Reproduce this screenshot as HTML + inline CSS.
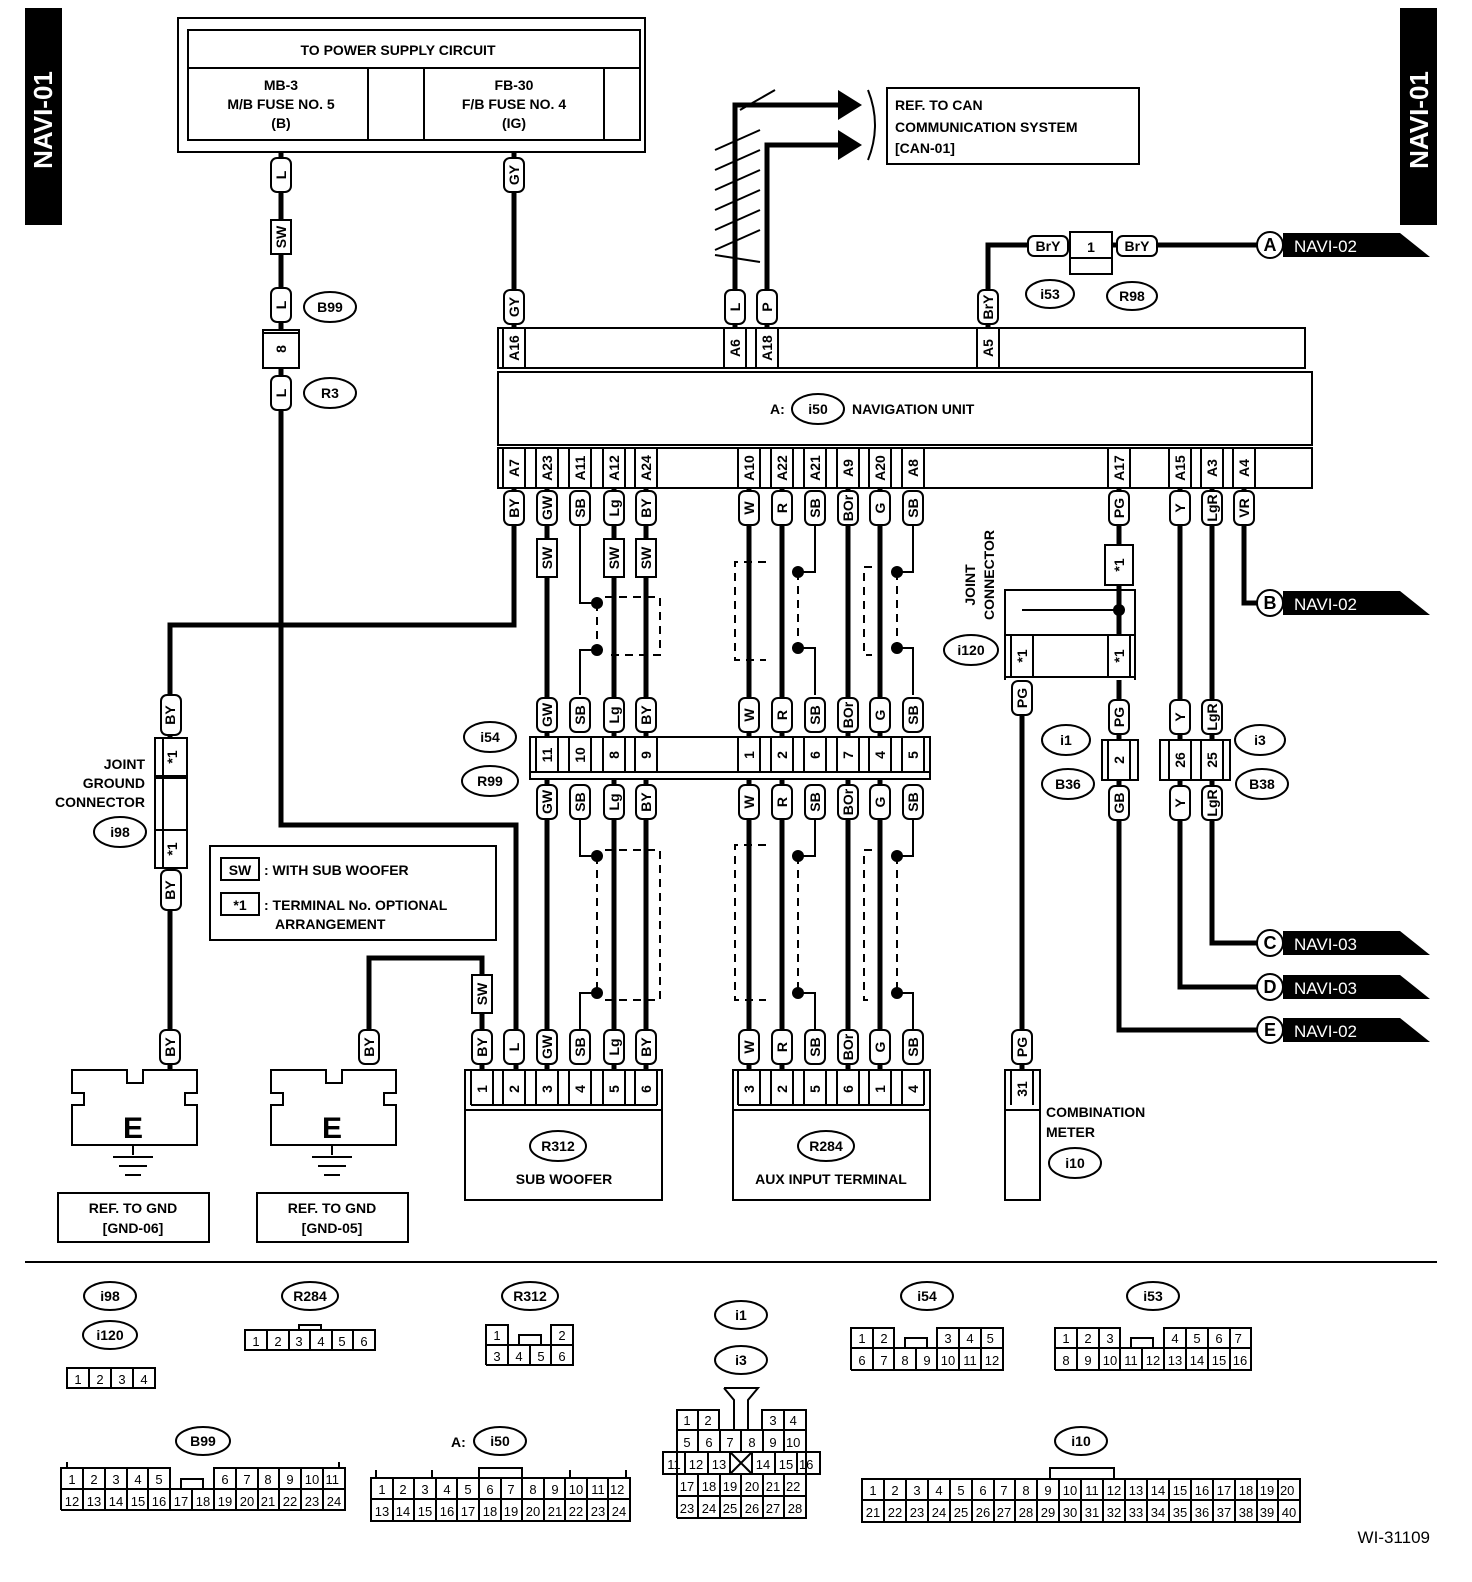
<!DOCTYPE html>
<html><head><meta charset="utf-8"><style>
body{margin:0;background:#fff}
svg{display:block}
text{font-family:"Liberation Sans",Arial,sans-serif;font-weight:bold;font-size:14px;fill:#000}
.w{stroke:#000;stroke-width:5;fill:none}
.t{stroke:#000;stroke-width:2;fill:none}
.d{stroke:#000;stroke-width:2;fill:none;stroke-dasharray:8,6}
.b{fill:#fff;stroke:#000;stroke-width:2}
.c text{font-size:13px;font-weight:normal}
</style></head><body>
<svg width="1472" height="1582" viewBox="0 0 1472 1582" xmlns="http://www.w3.org/2000/svg">
<defs>
<g id="pl"><rect x="-10" y="-17" width="20" height="34" rx="6" class="b"/></g>
</defs>
<!-- NAVI bars -->
<rect x="25" y="8" width="37" height="217" fill="#000"/>
<text transform="translate(52,120) rotate(-90)" text-anchor="middle" style="fill:#fff;font-size:26px">NAVI-01</text>
<rect x="1400" y="8" width="37" height="217" fill="#000"/>
<text transform="translate(1428,120) rotate(-90)" text-anchor="middle" style="fill:#fff;font-size:26px">NAVI-01</text>

<!-- power supply box -->
<rect x="178" y="18" width="467" height="134" class="b"/>
<rect x="188" y="30" width="452" height="110" class="b"/>
<line x1="188" y1="68" x2="640" y2="68" class="t"/>
<line x1="368" y1="68" x2="368" y2="140" class="t"/>
<line x1="424" y1="68" x2="424" y2="140" class="t"/>
<line x1="604" y1="68" x2="604" y2="140" class="t"/>
<text x="398" y="55" text-anchor="middle">TO POWER SUPPLY CIRCUIT</text>
<text x="281" y="90" text-anchor="middle">MB-3</text>
<text x="281" y="109" text-anchor="middle">M/B FUSE NO. 5</text>
<text x="281" y="128" text-anchor="middle">(B)</text>
<text x="514" y="90" text-anchor="middle">FB-30</text>
<text x="514" y="109" text-anchor="middle">F/B FUSE NO. 4</text>
<text x="514" y="128" text-anchor="middle">(IG)</text>

<!-- CAN -->
<path d="M735 330 V105 H840 M767 330 V145 H840" class="w"/>
<polygon points="838,90 862,105 838,120" fill="#000"/>
<polygon points="838,130 862,145 838,160" fill="#000"/>
<path d="M715 170 L760 150 M715 190 L760 170 M715 210 L760 190 M715 230 L760 210 M715 250 L760 230 M715 150 L760 130 M740 110 L775 90 M715 255 L760 262" class="t"/>
<path d="M868 90 Q882 125 868 160" class="t"/>
<rect x="887" y="88" width="252" height="76" class="b"/>
<text x="895" y="110">REF. TO CAN</text>
<text x="895" y="132">COMMUNICATION SYSTEM</text>
<text x="895" y="153">[CAN-01]</text>

<!-- wires -->
<path d="M281 152 V825 H516 V1070" class="w"/>
<path d="M514 152 V330" class="w"/>
<path d="M988 330 V245 H1260" class="w"/>
<path d="M514 488 V625 H170 V1070" class="w"/>
<path d="M547 488 V1070 M614 488 V1070 M646 488 V1070 M749 488 V1070 M782 488 V1070 M848 488 V1070 M880 488 V1070" class="w"/>
<path d="M1119 488 V545 M1119 585 V640 M1119 680 V1030 H1260" class="w"/>
<path d="M1022 680 V1070" class="w"/>
<path d="M1180 488 V987 H1260 M1212 488 V943 H1260 M1244 488 V603 H1260" class="w"/>
<path d="M369 1050 V958 H482 V1070" class="w"/>
<!-- SB drains -->
<path d="M580 525 V603 H597 M597 650 H580 V695 M815 525 V572 H798 M798 648 H815 V695 M913 525 V572 H897 M897 648 H913 V695" class="t"/>
<path d="M580 820 V856 H597 M597 993 H580 V1030 M815 820 V856 H798 M798 993 H815 V1030 M913 820 V856 H897 M897 993 H913 V1030" class="t"/>
<g fill="#000"><circle cx="597" cy="603" r="6"/><circle cx="597" cy="650" r="6"/><circle cx="798" cy="572" r="6"/><circle cx="798" cy="648" r="6"/><circle cx="897" cy="572" r="6"/><circle cx="897" cy="648" r="6"/>
<circle cx="597" cy="856" r="6"/><circle cx="597" cy="993" r="6"/><circle cx="798" cy="856" r="6"/><circle cx="798" cy="993" r="6"/><circle cx="897" cy="856" r="6"/><circle cx="897" cy="993" r="6"/><circle cx="1119" cy="610" r="6"/></g>
<path d="M597 603 V650 M597 856 V993 M798 572 V648 M798 856 V993 M897 572 V648 M897 856 V993" class="d"/>
<path d="M605 597 H660 V655 H605 M605 850 H660 V1000 H605 M766 562 H735 V660 H766 M766 845 H735 V1000 H766 M872 567 H864 V655 H872 M872 850 H864 V1000 H872" class="d"/>

<!-- nav unit -->
<rect x="498" y="328" width="807" height="40" class="b"/>
<rect x="498" y="372" width="814" height="73" class="b"/>
<rect x="498" y="448" width="814" height="40" class="b"/>
<text x="770" y="414">A:</text><ellipse cx="818" cy="409" rx="26" ry="15" class="b"/><text x="818" y="414" text-anchor="middle">i50</text>
<text x="852" y="414">NAVIGATION UNIT</text>
<g>
<path d="M503 328 V368 M525 328 V368 M724 328 V368 M746 328 V368 M756 328 V368 M778 328 V368 M977 328 V368 M999 328 V368" class="t"/>
<text transform="translate(519,348) rotate(-90)" text-anchor="middle">A16</text>
<text transform="translate(740,348) rotate(-90)" text-anchor="middle">A6</text>
<text transform="translate(772,348) rotate(-90)" text-anchor="middle">A18</text>
<text transform="translate(993,348) rotate(-90)" text-anchor="middle">A5</text>
</g>
<g>
<path d="M503 448 V488 M525 448 V488 M536 448 V488 M558 448 V488 M569 448 V488 M591 448 V488 M603 448 V488 M625 448 V488 M635 448 V488 M657 448 V488 M738 448 V488 M760 448 V488 M771 448 V488 M793 448 V488 M804 448 V488 M826 448 V488 M837 448 V488 M859 448 V488 M869 448 V488 M891 448 V488 M902 448 V488 M924 448 V488 M1108 448 V488 M1130 448 V488 M1169 448 V488 M1191 448 V488 M1201 448 V488 M1223 448 V488 M1233 448 V488 M1255 448 V488" class="t"/>
<text transform="translate(519,468) rotate(-90)" text-anchor="middle">A7</text>
<text transform="translate(552,468) rotate(-90)" text-anchor="middle">A23</text>
<text transform="translate(585,468) rotate(-90)" text-anchor="middle">A11</text>
<text transform="translate(619,468) rotate(-90)" text-anchor="middle">A12</text>
<text transform="translate(651,468) rotate(-90)" text-anchor="middle">A24</text>
<text transform="translate(754,468) rotate(-90)" text-anchor="middle">A10</text>
<text transform="translate(787,468) rotate(-90)" text-anchor="middle">A22</text>
<text transform="translate(820,468) rotate(-90)" text-anchor="middle">A21</text>
<text transform="translate(853,468) rotate(-90)" text-anchor="middle">A9</text>
<text transform="translate(885,468) rotate(-90)" text-anchor="middle">A20</text>
<text transform="translate(918,468) rotate(-90)" text-anchor="middle">A8</text>
<text transform="translate(1124,468) rotate(-90)" text-anchor="middle">A17</text>
<text transform="translate(1185,468) rotate(-90)" text-anchor="middle">A15</text>
<text transform="translate(1217,468) rotate(-90)" text-anchor="middle">A3</text>
<text transform="translate(1249,468) rotate(-90)" text-anchor="middle">A4</text>
</g>

<!-- pills: generic -->
<g id="pills">
<!-- top -->
<use href="#pl" x="281" y="175"/><text transform="translate(286,175) rotate(-90)" text-anchor="middle">L</text>
<rect x="271" y="220" width="20" height="34" class="b"/><text transform="translate(286,237) rotate(-90)" text-anchor="middle">SW</text>
<use href="#pl" x="281" y="305"/><text transform="translate(286,305) rotate(-90)" text-anchor="middle">L</text>
<rect x="263" y="330" width="36" height="38" class="b"/><line x1="263" y1="333" x2="299" y2="333" class="t"/><text transform="translate(286,349) rotate(-90)" text-anchor="middle">8</text>
<use href="#pl" x="281" y="393"/><text transform="translate(286,393) rotate(-90)" text-anchor="middle">L</text>
<use href="#pl" x="514" y="175"/><text transform="translate(519,175) rotate(-90)" text-anchor="middle">GY</text>
<use href="#pl" x="514" y="307"/><text transform="translate(519,307) rotate(-90)" text-anchor="middle">GY</text>
<use href="#pl" x="735" y="307"/><text transform="translate(740,307) rotate(-90)" text-anchor="middle">L</text>
<use href="#pl" x="767" y="307"/><text transform="translate(772,307) rotate(-90)" text-anchor="middle">P</text>
<use href="#pl" x="988" y="307"/><text transform="translate(993,307) rotate(-90)" text-anchor="middle">BrY</text>
</g>
<ellipse cx="330" cy="307" rx="26" ry="15" class="b"/><text x="330" y="312" text-anchor="middle">B99</text>
<ellipse cx="330" cy="393" rx="26" ry="15" class="b"/><text x="330" y="398" text-anchor="middle">R3</text>

<!-- i53 -->
<rect x="1028" y="236" width="40" height="20" rx="6" class="b"/><text x="1048" y="251" text-anchor="middle">BrY</text>
<rect x="1117" y="236" width="40" height="20" rx="6" class="b"/><text x="1137" y="251" text-anchor="middle">BrY</text>
<rect x="1070" y="232" width="42" height="42" class="b"/><line x1="1070" y1="258" x2="1112" y2="258" class="t"/><text x="1091" y="252" text-anchor="middle">1</text>
<ellipse cx="1050" cy="294" rx="24" ry="14" class="b"/><text x="1050" y="299" text-anchor="middle">i53</text>
<ellipse cx="1132" cy="296" rx="25" ry="14" class="b"/><text x="1132" y="301" text-anchor="middle">R98</text>

<!-- NAVI tags -->
<g>
<polygon points="1283,233 1400,233 1430,257 1283,257" fill="#000"/><circle cx="1270" cy="245" r="13" class="b"/><text x="1270" y="251" text-anchor="middle" style="font-size:18px">A</text><text x="1294" y="252" style="fill:#fff;font-size:17px;font-weight:normal">NAVI-02</text>
<polygon points="1283,591 1400,591 1430,615 1283,615" fill="#000"/><circle cx="1270" cy="603" r="13" class="b"/><text x="1270" y="609" text-anchor="middle" style="font-size:18px">B</text><text x="1294" y="610" style="fill:#fff;font-size:17px;font-weight:normal">NAVI-02</text>
<polygon points="1283,931 1400,931 1430,955 1283,955" fill="#000"/><circle cx="1270" cy="943" r="13" class="b"/><text x="1270" y="949" text-anchor="middle" style="font-size:18px">C</text><text x="1294" y="950" style="fill:#fff;font-size:17px;font-weight:normal">NAVI-03</text>
<polygon points="1283,975 1400,975 1430,999 1283,999" fill="#000"/><circle cx="1270" cy="987" r="13" class="b"/><text x="1270" y="993" text-anchor="middle" style="font-size:18px">D</text><text x="1294" y="994" style="fill:#fff;font-size:17px;font-weight:normal">NAVI-03</text>
<polygon points="1283,1018 1400,1018 1430,1042 1283,1042" fill="#000"/><circle cx="1270" cy="1030" r="13" class="b"/><text x="1270" y="1036" text-anchor="middle" style="font-size:18px">E</text><text x="1294" y="1037" style="fill:#fff;font-size:17px;font-weight:normal">NAVI-02</text>
</g>

<!-- row pills under nav -->
<g>
<use href="#pl" x="514" y="508"/><text transform="translate(519,508) rotate(-90)" text-anchor="middle">BY</text>
<use href="#pl" x="547" y="508"/><text transform="translate(552,508) rotate(-90)" text-anchor="middle">GW</text>
<use href="#pl" x="580" y="508"/><text transform="translate(585,508) rotate(-90)" text-anchor="middle">SB</text>
<use href="#pl" x="614" y="508"/><text transform="translate(619,508) rotate(-90)" text-anchor="middle">Lg</text>
<use href="#pl" x="646" y="508"/><text transform="translate(651,508) rotate(-90)" text-anchor="middle">BY</text>
<use href="#pl" x="749" y="508"/><text transform="translate(754,508) rotate(-90)" text-anchor="middle">W</text>
<use href="#pl" x="782" y="508"/><text transform="translate(787,508) rotate(-90)" text-anchor="middle">R</text>
<use href="#pl" x="815" y="508"/><text transform="translate(820,508) rotate(-90)" text-anchor="middle">SB</text>
<use href="#pl" x="848" y="508"/><text transform="translate(853,508) rotate(-90)" text-anchor="middle">BOr</text>
<use href="#pl" x="880" y="508"/><text transform="translate(885,508) rotate(-90)" text-anchor="middle">G</text>
<use href="#pl" x="913" y="508"/><text transform="translate(918,508) rotate(-90)" text-anchor="middle">SB</text>
<use href="#pl" x="1119" y="508"/><text transform="translate(1124,508) rotate(-90)" text-anchor="middle">PG</text>
<use href="#pl" x="1180" y="508"/><text transform="translate(1185,508) rotate(-90)" text-anchor="middle">Y</text>
<use href="#pl" x="1212" y="508"/><text transform="translate(1217,508) rotate(-90)" text-anchor="middle">LgR</text>
<use href="#pl" x="1244" y="508"/><text transform="translate(1249,508) rotate(-90)" text-anchor="middle">VR</text>
<rect x="537" y="539" width="20" height="38" class="b"/><text transform="translate(552,558) rotate(-90)" text-anchor="middle">SW</text>
<rect x="604" y="539" width="20" height="38" class="b"/><text transform="translate(619,558) rotate(-90)" text-anchor="middle">SW</text>
<rect x="636" y="539" width="20" height="38" class="b"/><text transform="translate(651,558) rotate(-90)" text-anchor="middle">SW</text>
</g>

<!-- i54/R99 connector -->
<rect x="530" y="737" width="400" height="42" class="b"/>
<line x1="530" y1="772" x2="930" y2="772" class="t"/>
<path d="M536 737 V772 M558 737 V772 M569 737 V772 M591 737 V772 M603 737 V772 M625 737 V772 M635 737 V772 M657 737 V772 M738 737 V772 M760 737 V772 M771 737 V772 M793 737 V772 M804 737 V772 M826 737 V772 M837 737 V772 M859 737 V772 M869 737 V772 M891 737 V772 M902 737 V772 M924 737 V772" class="t"/>
<g>
<text transform="translate(552,755) rotate(-90)" text-anchor="middle">11</text>
<text transform="translate(585,755) rotate(-90)" text-anchor="middle">10</text>
<text transform="translate(619,755) rotate(-90)" text-anchor="middle">8</text>
<text transform="translate(651,755) rotate(-90)" text-anchor="middle">9</text>
<text transform="translate(754,755) rotate(-90)" text-anchor="middle">1</text>
<text transform="translate(787,755) rotate(-90)" text-anchor="middle">2</text>
<text transform="translate(820,755) rotate(-90)" text-anchor="middle">6</text>
<text transform="translate(853,755) rotate(-90)" text-anchor="middle">7</text>
<text transform="translate(885,755) rotate(-90)" text-anchor="middle">4</text>
<text transform="translate(918,755) rotate(-90)" text-anchor="middle">5</text>
</g>
<ellipse cx="490" cy="737" rx="26" ry="15" class="b"/><text x="490" y="742" text-anchor="middle">i54</text>
<ellipse cx="490" cy="781" rx="28" ry="15" class="b"/><text x="490" y="786" text-anchor="middle">R99</text>
<g>
<use href="#pl" x="547" y="715"/><text transform="translate(552,715) rotate(-90)" text-anchor="middle">GW</text>
<use href="#pl" x="580" y="715"/><text transform="translate(585,715) rotate(-90)" text-anchor="middle">SB</text>
<use href="#pl" x="614" y="715"/><text transform="translate(619,715) rotate(-90)" text-anchor="middle">Lg</text>
<use href="#pl" x="646" y="715"/><text transform="translate(651,715) rotate(-90)" text-anchor="middle">BY</text>
<use href="#pl" x="749" y="715"/><text transform="translate(754,715) rotate(-90)" text-anchor="middle">W</text>
<use href="#pl" x="782" y="715"/><text transform="translate(787,715) rotate(-90)" text-anchor="middle">R</text>
<use href="#pl" x="815" y="715"/><text transform="translate(820,715) rotate(-90)" text-anchor="middle">SB</text>
<use href="#pl" x="848" y="715"/><text transform="translate(853,715) rotate(-90)" text-anchor="middle">BOr</text>
<use href="#pl" x="880" y="715"/><text transform="translate(885,715) rotate(-90)" text-anchor="middle">G</text>
<use href="#pl" x="913" y="715"/><text transform="translate(918,715) rotate(-90)" text-anchor="middle">SB</text>
<use href="#pl" x="547" y="802"/><text transform="translate(552,802) rotate(-90)" text-anchor="middle">GW</text>
<use href="#pl" x="580" y="802"/><text transform="translate(585,802) rotate(-90)" text-anchor="middle">SB</text>
<use href="#pl" x="614" y="802"/><text transform="translate(619,802) rotate(-90)" text-anchor="middle">Lg</text>
<use href="#pl" x="646" y="802"/><text transform="translate(651,802) rotate(-90)" text-anchor="middle">BY</text>
<use href="#pl" x="749" y="802"/><text transform="translate(754,802) rotate(-90)" text-anchor="middle">W</text>
<use href="#pl" x="782" y="802"/><text transform="translate(787,802) rotate(-90)" text-anchor="middle">R</text>
<use href="#pl" x="815" y="802"/><text transform="translate(820,802) rotate(-90)" text-anchor="middle">SB</text>
<use href="#pl" x="848" y="802"/><text transform="translate(853,802) rotate(-90)" text-anchor="middle">BOr</text>
<use href="#pl" x="880" y="802"/><text transform="translate(885,802) rotate(-90)" text-anchor="middle">G</text>
<use href="#pl" x="913" y="802"/><text transform="translate(918,802) rotate(-90)" text-anchor="middle">SB</text>
</g>

<!-- bottom connectors -->
<g>
<use href="#pl" x="482" y="1047"/><text transform="translate(487,1047) rotate(-90)" text-anchor="middle">BY</text>
<use href="#pl" x="514" y="1047"/><text transform="translate(519,1047) rotate(-90)" text-anchor="middle">L</text>
<use href="#pl" x="547" y="1047"/><text transform="translate(552,1047) rotate(-90)" text-anchor="middle">GW</text>
<use href="#pl" x="580" y="1047"/><text transform="translate(585,1047) rotate(-90)" text-anchor="middle">SB</text>
<use href="#pl" x="614" y="1047"/><text transform="translate(619,1047) rotate(-90)" text-anchor="middle">Lg</text>
<use href="#pl" x="646" y="1047"/><text transform="translate(651,1047) rotate(-90)" text-anchor="middle">BY</text>
<use href="#pl" x="749" y="1047"/><text transform="translate(754,1047) rotate(-90)" text-anchor="middle">W</text>
<use href="#pl" x="782" y="1047"/><text transform="translate(787,1047) rotate(-90)" text-anchor="middle">R</text>
<use href="#pl" x="815" y="1047"/><text transform="translate(820,1047) rotate(-90)" text-anchor="middle">SB</text>
<use href="#pl" x="848" y="1047"/><text transform="translate(853,1047) rotate(-90)" text-anchor="middle">BOr</text>
<use href="#pl" x="880" y="1047"/><text transform="translate(885,1047) rotate(-90)" text-anchor="middle">G</text>
<use href="#pl" x="913" y="1047"/><text transform="translate(918,1047) rotate(-90)" text-anchor="middle">SB</text>
<rect x="472" y="975" width="20" height="38" class="b"/><text transform="translate(487,994) rotate(-90)" text-anchor="middle">SW</text>
<use href="#pl" x="369" y="1047"/><text transform="translate(374,1047) rotate(-90)" text-anchor="middle">BY</text>
<use href="#pl" x="170" y="1047"/><text transform="translate(175,1047) rotate(-90)" text-anchor="middle">BY</text>
</g>
<rect x="465" y="1070" width="197" height="130" class="b"/>
<line x1="465" y1="1110" x2="662" y2="1110" class="t"/>
<path d="M471 1070 V1105 M493 1070 V1105 M503 1070 V1105 M525 1070 V1105 M536 1070 V1105 M558 1070 V1105 M569 1070 V1105 M591 1070 V1105 M603 1070 V1105 M625 1070 V1105 M635 1070 V1105 M657 1070 V1105 M471 1105 H657" class="t"/>
<text transform="translate(487,1089) rotate(-90)" text-anchor="middle">1</text>
<text transform="translate(519,1089) rotate(-90)" text-anchor="middle">2</text>
<text transform="translate(552,1089) rotate(-90)" text-anchor="middle">3</text>
<text transform="translate(585,1089) rotate(-90)" text-anchor="middle">4</text>
<text transform="translate(619,1089) rotate(-90)" text-anchor="middle">5</text>
<text transform="translate(651,1089) rotate(-90)" text-anchor="middle">6</text>
<ellipse cx="558" cy="1146" rx="28" ry="15" class="b"/><text x="558" y="1151" text-anchor="middle">R312</text>
<text x="564" y="1184" text-anchor="middle">SUB WOOFER</text>

<rect x="733" y="1070" width="197" height="130" class="b"/>
<line x1="733" y1="1110" x2="930" y2="1110" class="t"/>
<path d="M738 1070 V1105 M760 1070 V1105 M771 1070 V1105 M793 1070 V1105 M804 1070 V1105 M826 1070 V1105 M837 1070 V1105 M859 1070 V1105 M869 1070 V1105 M891 1070 V1105 M902 1070 V1105 M924 1070 V1105 M738 1105 H924" class="t"/>
<text transform="translate(754,1089) rotate(-90)" text-anchor="middle">3</text>
<text transform="translate(787,1089) rotate(-90)" text-anchor="middle">2</text>
<text transform="translate(820,1089) rotate(-90)" text-anchor="middle">5</text>
<text transform="translate(853,1089) rotate(-90)" text-anchor="middle">6</text>
<text transform="translate(885,1089) rotate(-90)" text-anchor="middle">1</text>
<text transform="translate(918,1089) rotate(-90)" text-anchor="middle">4</text>
<ellipse cx="826" cy="1146" rx="28" ry="15" class="b"/><text x="826" y="1151" text-anchor="middle">R284</text>
<text x="831" y="1184" text-anchor="middle">AUX INPUT TERMINAL</text>

<!-- ground left -->
<g>
<rect x="161" y="695" width="20" height="40" rx="6" class="b"/><text transform="translate(175,715) rotate(-90)" text-anchor="middle">BY</text>
<rect x="155" y="738" width="32" height="38" class="b"/><line x1="163" y1="738" x2="163" y2="776" class="t"/><text transform="translate(177,757) rotate(-90)" text-anchor="middle">*1</text>
<rect x="155" y="778" width="32" height="55" class="b"/><line x1="163" y1="778" x2="163" y2="833" class="t"/>
<rect x="155" y="830" width="32" height="38" class="b"/><line x1="163" y1="830" x2="163" y2="868" class="t"/><text transform="translate(177,849) rotate(-90)" text-anchor="middle">*1</text>
<rect x="161" y="870" width="20" height="40" rx="6" class="b"/><text transform="translate(175,890) rotate(-90)" text-anchor="middle">BY</text>
</g>
<text x="145" y="769" text-anchor="end">JOINT</text>
<text x="145" y="788" text-anchor="end">GROUND</text>
<text x="145" y="807" text-anchor="end">CONNECTOR</text>
<ellipse cx="120" cy="832" rx="26" ry="15" class="b"/><text x="120" y="837" text-anchor="middle">i98</text>

<!-- ground symbols -->
<g>
<path d="M72 1070 H127 V1083 H143 V1070 H197 V1093 H185 V1105 H197 V1145 H72 V1105 H84 V1093 H72 Z" class="b"/>
<text x="133" y="1138" text-anchor="middle" style="font-size:30px">E</text>
<path d="M133 1145 V1155 M113 1157 H153 M119 1166 H147 M125 1175 H141" class="t"/>
<rect x="58" y="1193" width="151" height="49" class="b"/><text x="133" y="1213" text-anchor="middle">REF. TO GND</text><text x="133" y="1233" text-anchor="middle">[GND-06]</text>
</g>
<g transform="translate(199,0)">
<path d="M72 1070 H127 V1083 H143 V1070 H197 V1093 H185 V1105 H197 V1145 H72 V1105 H84 V1093 H72 Z" class="b"/>
<text x="133" y="1138" text-anchor="middle" style="font-size:30px">E</text>
<path d="M133 1145 V1155 M113 1157 H153 M119 1166 H147 M125 1175 H141" class="t"/>
<rect x="58" y="1193" width="151" height="49" class="b"/><text x="133" y="1213" text-anchor="middle">REF. TO GND</text><text x="133" y="1233" text-anchor="middle">[GND-05]</text>
</g>

<!-- legend -->
<rect x="210" y="846" width="286" height="94" class="b"/>
<rect x="221" y="858" width="38" height="22" class="b"/><text x="240" y="875" text-anchor="middle">SW</text>
<text x="264" y="875">: WITH SUB WOOFER</text>
<rect x="221" y="893" width="38" height="22" class="b"/><text x="240" y="910" text-anchor="middle">*1</text>
<text x="264" y="910">: TERMINAL No. OPTIONAL</text>
<text x="275" y="929">ARRANGEMENT</text>

<!-- joint connector i120 -->
<path d="M1005 680 V590 H1135 V680 M1022 610 H1119" class="t"/>
<rect x="1105" y="545" width="28" height="40" class="b"/><text transform="translate(1124,565) rotate(-90)" text-anchor="middle">*1</text>
<rect x="1005" y="635" width="130" height="42" class="b"/>
<path d="M1011 635 V677 M1033 635 V677 M1108 635 V677 M1130 635 V677" class="t"/>
<text transform="translate(1027,656) rotate(-90)" text-anchor="middle">*1</text>
<text transform="translate(1124,656) rotate(-90)" text-anchor="middle">*1</text>
<text transform="translate(975,585) rotate(-90)" text-anchor="middle">JOINT</text>
<text transform="translate(994,575) rotate(-90)" text-anchor="middle">CONNECTOR</text>
<ellipse cx="971" cy="650" rx="27" ry="15" class="b"/><text x="971" y="655" text-anchor="middle">i120</text>
<use href="#pl" x="1022" y="698"/><text transform="translate(1027,698) rotate(-90)" text-anchor="middle">PG</text>
<use href="#pl" x="1119" y="717"/><text transform="translate(1124,717) rotate(-90)" text-anchor="middle">PG</text>
<rect x="1102" y="740" width="36" height="40" class="b"/><line x1="1108" y1="740" x2="1108" y2="780" class="t"/><line x1="1130" y1="740" x2="1130" y2="780" class="t"/><text transform="translate(1124,760) rotate(-90)" text-anchor="middle">2</text>
<use href="#pl" x="1119" y="803"/><text transform="translate(1124,803) rotate(-90)" text-anchor="middle">GB</text>
<ellipse cx="1066" cy="740" rx="24" ry="15" class="b"/><text x="1066" y="745" text-anchor="middle">i1</text>
<ellipse cx="1068" cy="784" rx="26" ry="15" class="b"/><text x="1068" y="789" text-anchor="middle">B36</text>
<use href="#pl" x="1180" y="717"/><text transform="translate(1185,717) rotate(-90)" text-anchor="middle">Y</text>
<use href="#pl" x="1212" y="717"/><text transform="translate(1217,717) rotate(-90)" text-anchor="middle">LgR</text>
<rect x="1160" y="740" width="70" height="40" class="b"/>
<path d="M1169 740 V780 M1191 740 V780 M1201 740 V780 M1223 740 V780" class="t"/>
<text transform="translate(1185,760) rotate(-90)" text-anchor="middle">26</text>
<text transform="translate(1217,760) rotate(-90)" text-anchor="middle">25</text>
<use href="#pl" x="1180" y="803"/><text transform="translate(1185,803) rotate(-90)" text-anchor="middle">Y</text>
<use href="#pl" x="1212" y="803"/><text transform="translate(1217,803) rotate(-90)" text-anchor="middle">LgR</text>
<ellipse cx="1260" cy="740" rx="25" ry="15" class="b"/><text x="1260" y="745" text-anchor="middle">i3</text>
<ellipse cx="1262" cy="784" rx="26" ry="15" class="b"/><text x="1262" y="789" text-anchor="middle">B38</text>

<!-- combination meter -->
<use href="#pl" x="1022" y="1047"/><text transform="translate(1027,1047) rotate(-90)" text-anchor="middle">PG</text>
<rect x="1005" y="1070" width="35" height="130" class="b"/>
<path d="M1011 1070 V1105 M1033 1070 V1105 M1005 1110 H1040" class="t"/>
<text transform="translate(1027,1089) rotate(-90)" text-anchor="middle">31</text>
<text x="1046" y="1117">COMBINATION</text>
<text x="1046" y="1137">METER</text>
<ellipse cx="1075" cy="1163" rx="26" ry="15" class="b"/><text x="1075" y="1168" text-anchor="middle">i10</text>

<line x1="25" y1="1262" x2="1437" y2="1262" class="t"/>

<!-- connector diagrams -->
<ellipse cx="110" cy="1296" rx="26" ry="14" class="b"/><text x="110" y="1301" text-anchor="middle">i98</text>
<ellipse cx="110" cy="1335" rx="27" ry="14" class="b"/><text x="110" y="1340" text-anchor="middle">i120</text>
<ellipse cx="310" cy="1296" rx="28" ry="14" class="b"/><text x="310" y="1301" text-anchor="middle">R284</text>
<ellipse cx="530" cy="1296" rx="28" ry="14" class="b"/><text x="530" y="1301" text-anchor="middle">R312</text>
<ellipse cx="741" cy="1315" rx="26" ry="14" class="b"/><text x="741" y="1320" text-anchor="middle">i1</text>
<ellipse cx="741" cy="1360" rx="26" ry="14" class="b"/><text x="741" y="1365" text-anchor="middle">i3</text>
<ellipse cx="927" cy="1296" rx="26" ry="14" class="b"/><text x="927" y="1301" text-anchor="middle">i54</text>
<ellipse cx="1153" cy="1296" rx="26" ry="14" class="b"/><text x="1153" y="1301" text-anchor="middle">i53</text>
<ellipse cx="203" cy="1441" rx="27" ry="14" class="b"/><text x="203" y="1446" text-anchor="middle">B99</text>
<text x="451" y="1447">A:</text><ellipse cx="500" cy="1441" rx="26" ry="14" class="b"/><text x="500" y="1446" text-anchor="middle">i50</text>
<ellipse cx="1081" cy="1441" rx="26" ry="14" class="b"/><text x="1081" y="1446" text-anchor="middle">i10</text>

<g class="c">
<!-- i98 -->
<rect x="67" y="1368" width="88" height="20" class="b"/><path d="M89 1368V1388M111 1368V1388M133 1368V1388" class="t"/>
<text y="1384" text-anchor="middle"><tspan x="78">1</tspan><tspan x="100">2</tspan><tspan x="122">3</tspan><tspan x="144">4</tspan></text>
<!-- R284 -->
<rect x="245" y="1330" width="130" height="20" class="b"/><path d="M267 1330V1350M289 1330V1350M310 1330V1350M332 1330V1350M353 1330V1350M299 1330V1325H321V1330" class="t"/>
<text y="1346" text-anchor="middle"><tspan x="256">1</tspan><tspan x="278">2</tspan><tspan x="299">3</tspan><tspan x="321">4</tspan><tspan x="342">5</tspan><tspan x="364">6</tspan></text>
<!-- R312 -->
<path d="M486 1365V1325H508V1345M551 1345V1325H573V1365H486M486 1345H573M508 1345V1365M530 1345V1365M551 1345V1365M519 1345V1335H541V1345" class="t"/>
<text text-anchor="middle"><tspan x="497" y="1340">1</tspan><tspan x="562" y="1340">2</tspan><tspan x="497" y="1361">3</tspan><tspan x="519" y="1361">4</tspan><tspan x="541" y="1361">5</tspan><tspan x="562" y="1361">6</tspan></text>
<!-- i1/i3 -->
<path d="M677 1518V1410H719V1430M762 1430V1410H806V1518H677M698 1410V1430M784 1410V1430M677 1430H806M663 1452H820V1474H663ZM677 1474H806M677 1496H806M698 1430V1452M720 1430V1452M741 1430V1452M763 1430V1452M784 1430V1452M685 1452V1474M708 1452V1474M730 1452V1474M752 1452V1474M775 1452V1474M797 1452V1474M698 1474V1518M720 1474V1518M741 1474V1518M763 1474V1518M784 1474V1518M730 1452L752 1474M752 1452L730 1474M724 1388H758L748 1400V1430M734 1430V1400L724 1388" class="t"/>
<text text-anchor="middle"><tspan x="687" y="1425">1</tspan><tspan x="708" y="1425">2</tspan><tspan x="773" y="1425">3</tspan><tspan x="795" y="1425">4</tspan>
<tspan x="687" y="1447">5</tspan><tspan x="709" y="1447">6</tspan><tspan x="730" y="1447">7</tspan><tspan x="752" y="1447">8</tspan><tspan x="773" y="1447">9</tspan><tspan x="795" y="1447">10</tspan>
<tspan x="674" y="1469">11</tspan><tspan x="696" y="1469">12</tspan><tspan x="719" y="1469">13</tspan><tspan x="763" y="1469">14</tspan><tspan x="786" y="1469">15</tspan><tspan x="808" y="1469">16</tspan>
<tspan x="687" y="1491">17</tspan><tspan x="709" y="1491">18</tspan><tspan x="730" y="1491">19</tspan><tspan x="752" y="1491">20</tspan><tspan x="773" y="1491">21</tspan><tspan x="795" y="1491">22</tspan>
<tspan x="687" y="1513">23</tspan><tspan x="709" y="1513">24</tspan><tspan x="730" y="1513">25</tspan><tspan x="752" y="1513">26</tspan><tspan x="773" y="1513">27</tspan><tspan x="795" y="1513">28</tspan></text>
<!-- i54 -->
<path d="M851 1370V1328H894V1348M937 1348V1328H1003V1370H851M873 1328V1348M959 1328V1348M981 1328V1348M851 1348H1003M873 1348V1370M894 1348V1370M916 1348V1370M937 1348V1370M959 1348V1370M981 1348V1370M905 1348V1338H927V1348" class="t"/>
<text text-anchor="middle"><tspan x="862" y="1343">1</tspan><tspan x="884" y="1343">2</tspan><tspan x="948" y="1343">3</tspan><tspan x="970" y="1343">4</tspan><tspan x="992" y="1343">5</tspan>
<tspan x="862" y="1365">6</tspan><tspan x="884" y="1365">7</tspan><tspan x="905" y="1365">8</tspan><tspan x="927" y="1365">9</tspan><tspan x="948" y="1365">10</tspan><tspan x="970" y="1365">11</tspan><tspan x="992" y="1365">12</tspan></text>
<!-- i53 -->
<path d="M1055 1370V1328H1120V1348M1164 1348V1328H1251V1370H1055M1077 1328V1348M1099 1328V1348M1186 1328V1348M1208 1328V1348M1230 1328V1348M1055 1348H1251M1077 1348V1370M1099 1348V1370M1120 1348V1370M1142 1348V1370M1164 1348V1370M1186 1348V1370M1208 1348V1370M1230 1348V1370M1131 1348V1338H1153V1348" class="t"/>
<text text-anchor="middle"><tspan x="1066" y="1343">1</tspan><tspan x="1088" y="1343">2</tspan><tspan x="1110" y="1343">3</tspan><tspan x="1175" y="1343">4</tspan><tspan x="1197" y="1343">5</tspan><tspan x="1219" y="1343">6</tspan><tspan x="1240" y="1343">7</tspan>
<tspan x="1066" y="1365">8</tspan><tspan x="1088" y="1365">9</tspan><tspan x="1110" y="1365">10</tspan><tspan x="1131" y="1365">11</tspan><tspan x="1153" y="1365">12</tspan><tspan x="1175" y="1365">13</tspan><tspan x="1197" y="1365">14</tspan><tspan x="1219" y="1365">15</tspan><tspan x="1240" y="1365">16</tspan></text>
<!-- B99 -->
<path d="M61 1510V1468H170V1489M214 1489V1468H345V1510H61M83 1468V1510M105 1468V1510M127 1468V1510M148 1468V1510M170 1489V1510M192 1489V1510M214 1489V1510M236 1468V1510M258 1468V1510M279 1468V1510M301 1468V1510M323 1468V1510M61 1489H345M181 1489V1479H203V1489M67 1468V1462M339 1468V1462" class="t"/>
<text text-anchor="middle"><tspan x="72" y="1484">1</tspan><tspan x="94" y="1484">2</tspan><tspan x="116" y="1484">3</tspan><tspan x="138" y="1484">4</tspan><tspan x="159" y="1484">5</tspan><tspan x="225" y="1484">6</tspan><tspan x="247" y="1484">7</tspan><tspan x="268" y="1484">8</tspan><tspan x="290" y="1484">9</tspan><tspan x="312" y="1484">10</tspan><tspan x="334" y="1484">11</tspan>
<tspan x="72" y="1506">12</tspan><tspan x="94" y="1506">13</tspan><tspan x="116" y="1506">14</tspan><tspan x="138" y="1506">15</tspan><tspan x="159" y="1506">16</tspan><tspan x="181" y="1506">17</tspan><tspan x="203" y="1506">18</tspan><tspan x="225" y="1506">19</tspan><tspan x="247" y="1506">20</tspan><tspan x="268" y="1506">21</tspan><tspan x="290" y="1506">22</tspan><tspan x="312" y="1506">23</tspan><tspan x="334" y="1506">24</tspan></text>
<!-- i50 -->
<path d="M371 1478H630V1521H371ZM371 1499H630M393 1478V1521M414 1478V1521M436 1478V1521M457 1478V1521M479 1478V1521M501 1478V1521M522 1478V1521M544 1478V1521M565 1478V1521M587 1478V1521M608 1478V1521M479 1478V1468H522V1478M376 1478V1470M432 1478V1470M570 1478V1470M626 1478V1470" class="t"/>
<text text-anchor="middle"><tspan x="382" y="1494">1</tspan><tspan x="403" y="1494">2</tspan><tspan x="425" y="1494">3</tspan><tspan x="447" y="1494">4</tspan><tspan x="468" y="1494">5</tspan><tspan x="490" y="1494">6</tspan><tspan x="511" y="1494">7</tspan><tspan x="533" y="1494">8</tspan><tspan x="555" y="1494">9</tspan><tspan x="576" y="1494">10</tspan><tspan x="598" y="1494">11</tspan><tspan x="619" y="1494">12</tspan>
<tspan x="382" y="1516">13</tspan><tspan x="403" y="1516">14</tspan><tspan x="425" y="1516">15</tspan><tspan x="447" y="1516">16</tspan><tspan x="468" y="1516">17</tspan><tspan x="490" y="1516">18</tspan><tspan x="511" y="1516">19</tspan><tspan x="533" y="1516">20</tspan><tspan x="555" y="1516">21</tspan><tspan x="576" y="1516">22</tspan><tspan x="598" y="1516">23</tspan><tspan x="619" y="1516">24</tspan></text>
<!-- i10 -->
<path d="M862 1479H1300V1522H862ZM862 1500H1300M884 1479V1522M906 1479V1522M928 1479V1522M950 1479V1522M972 1479V1522M994 1479V1522M1015 1479V1522M1037 1479V1522M1059 1479V1522M1081 1479V1522M1103 1479V1522M1125 1479V1522M1147 1479V1522M1169 1479V1522M1191 1479V1522M1213 1479V1522M1235 1479V1522M1257 1479V1522M1278 1479V1522M1050 1479V1468H1114V1479" class="t"/>
<text text-anchor="middle"><tspan x="873" y="1495">1</tspan><tspan x="895" y="1495">2</tspan><tspan x="917" y="1495">3</tspan><tspan x="939" y="1495">4</tspan><tspan x="961" y="1495">5</tspan><tspan x="983" y="1495">6</tspan><tspan x="1004" y="1495">7</tspan><tspan x="1026" y="1495">8</tspan><tspan x="1048" y="1495">9</tspan><tspan x="1070" y="1495">10</tspan><tspan x="1092" y="1495">11</tspan><tspan x="1114" y="1495">12</tspan><tspan x="1136" y="1495">13</tspan><tspan x="1158" y="1495">14</tspan><tspan x="1180" y="1495">15</tspan><tspan x="1202" y="1495">16</tspan><tspan x="1224" y="1495">17</tspan><tspan x="1246" y="1495">18</tspan><tspan x="1267" y="1495">19</tspan><tspan x="1289" y="1495">20</tspan>
<tspan x="873" y="1517">21</tspan><tspan x="895" y="1517">22</tspan><tspan x="917" y="1517">23</tspan><tspan x="939" y="1517">24</tspan><tspan x="961" y="1517">25</tspan><tspan x="983" y="1517">26</tspan><tspan x="1004" y="1517">27</tspan><tspan x="1026" y="1517">28</tspan><tspan x="1048" y="1517">29</tspan><tspan x="1070" y="1517">30</tspan><tspan x="1092" y="1517">31</tspan><tspan x="1114" y="1517">32</tspan><tspan x="1136" y="1517">33</tspan><tspan x="1158" y="1517">34</tspan><tspan x="1180" y="1517">35</tspan><tspan x="1202" y="1517">36</tspan><tspan x="1224" y="1517">37</tspan><tspan x="1246" y="1517">38</tspan><tspan x="1267" y="1517">39</tspan><tspan x="1289" y="1517">40</tspan></text>
</g>
<text x="1430" y="1543" text-anchor="end" style="font-weight:normal;font-size:17px">WI-31109</text>
</svg>
</body></html>
